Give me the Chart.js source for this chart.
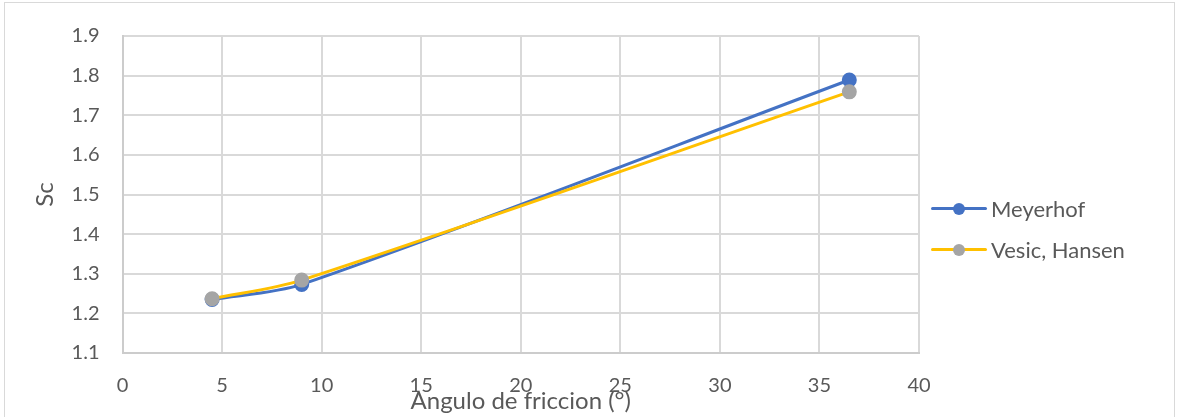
<!DOCTYPE html>
<html>
<head>
<meta charset="utf-8">
<script src="https://cdn.jsdelivr.net/npm/chart.js@4/dist/chart.umd.min.js"></script>
<style>
  html, body { margin: 0; padding: 0; background: #fff; }
  #wrap { position: relative; width: 1180px; height: 417px; overflow: hidden; }
  #frame { position: absolute; left: 4px; top: 2px; width: 1171px; height: 420px; border: 1px solid #d9d9d9; box-sizing: border-box; }
  #chart { position: absolute; left: 0; top: 0; }
  .legend { position: absolute; left: 931px; font-family: Lato, sans-serif; font-size: 22px; color: #595959; display: flex; align-items: center; }
  .legend .mark { position: relative; width: 56px; height: 12px; margin-right: 4px; }
  .legend .mark .ln { position: absolute; left: 0; right: 0; top: 4.5px; height: 3px; border-radius: 2px; }
  .legend .mark .dot { position: absolute; left: 22px; top: 0; width: 12px; height: 12px; border-radius: 50%; }
</style>
</head>
<body>
<div id="wrap">
  <div id="frame"></div>
  <canvas id="chart" width="1180" height="417"></canvas>
  <div id="legend"></div>
</div>
<script>
const seriesNames = ["Meyerhof", "Vesic, Hansen"]
const meyerhofX = [4.5, 9, 36.5]
const meyerhofY = [1.235, 1.273, 1.789]
const vesicX = [4.5, 9, 36.5]
const vesicY = [1.237, 1.284, 1.759]
const xTicks = [0, 5, 10, 15, 20, 25, 30, 35, 40]
const yTicks = [1.1, 1.2, 1.3, 1.4, 1.5, 1.6, 1.7, 1.8, 1.9]

const lineColors = ["#4472C4", "#FFC000"]
const markerColors = ["#4472C4", "#A5A5A5"]
const textColor = "#595959"
const gridColor = "#d9d9d9"

function toPoints(xs, ys) {
  return xs.map((x, i) => ({ x: x, y: ys[i] }))
}

// legend drawn next to the plot, like the Excel one
const legendTops = [195, 236]
const legendEl = document.getElementById("legend")
seriesNames.forEach((name, i) => {
  const row = document.createElement("div")
  row.className = "legend"
  row.style.top = legendTops[i] + "px"
  row.innerHTML = `<span class="mark"><span class="ln" style="background:${lineColors[i]}"></span>` +
    `<span class="dot" style="background:${markerColors[i]}"></span></span><span>${name}</span>`
  legendEl.appendChild(row)
})

new Chart("chart", {
  type: "line",
  data: {
    datasets: [
      {
        label: seriesNames[0],
        data: toPoints(meyerhofX, meyerhofY),
        borderColor: lineColors[0],
        backgroundColor: markerColors[0],
        pointBackgroundColor: markerColors[0],
        pointBorderColor: markerColors[0],
        borderWidth: 3,
        pointRadius: 6,
        tension: 0.3,
        order: 1
      },
      {
        label: seriesNames[1],
        data: toPoints(vesicX, vesicY),
        borderColor: lineColors[1],
        backgroundColor: markerColors[1],
        pointBackgroundColor: markerColors[1],
        pointBorderColor: markerColors[1],
        borderWidth: 3,
        pointRadius: 6,
        tension: 0.3,
        order: 0
      }
    ]
  },
  options: {
    responsive: false,
    animation: false,
    layout: { padding: { left: 0, top: 36, right: 261, bottom: 0 } },
    plugins: {
      legend: { display: false },
      tooltip: { enabled: false }
    },
    scales: {
      x: {
        type: "linear",
        min: 0,
        max: 40,
        afterBuildTicks: (scale) => { scale.ticks = xTicks.map(v => ({ value: v })) },
        afterFit: (scale) => { scale.height = 64 },
        grid: { color: gridColor, lineWidth: 2, drawTicks: false },
        border: { color: "#cccccc", width: 2 },
        ticks: { color: textColor, padding: 21, font: { family: "Lato", size: 20 } },
        title: {
          display: true,
          text: "Angulo de friccion (°)",
          color: textColor,
          font: { family: "Lato", size: 24 },
          padding: { top: 0, bottom: 1 }
        }
      },
      y: {
        min: 1.1,
        max: 1.9,
        afterBuildTicks: (scale) => { scale.ticks = yTicks.map(v => ({ value: v })) },
        afterFit: (scale) => { scale.width = 122.5 },
        grid: { color: gridColor, lineWidth: 2, drawTicks: false },
        border: { color: "#cccccc", width: 2 },
        ticks: {
          color: textColor,
          padding: 23,
          font: { family: "Lato", size: 20 },
          callback: (v) => v.toFixed(1)
        },
        title: {
          display: true,
          text: "Sc",
          color: textColor,
          font: { family: "Lato", size: 24 },
          padding: { top: 31, bottom: 0 }
        }
      }
    }
  }
})
</script>
</body>
</html>
